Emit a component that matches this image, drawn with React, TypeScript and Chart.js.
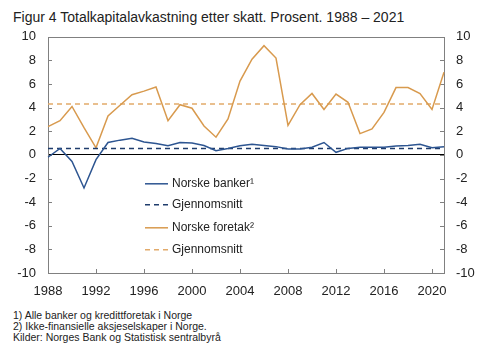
import React, { useEffect, useRef } from 'react';
import { Chart, registerables } from 'chart.js';
Chart.register(...registerables);

const years = ['1988','1989','1990','1991','1992','1993','1994','1995','1996','1997','1998','1999','2000','2001','2002','2003','2004','2005','2006','2007','2008','2009','2010','2011','2012','2013','2014','2015','2016','2017','2018','2019','2020','2021'];
const banks = [-0.2,0.55,-0.55,-2.8,-0.4,1.05,1.25,1.4,1.1,0.97,0.78,1.05,1.0,0.8,0.36,0.55,0.78,0.9,0.8,0.7,0.5,0.5,0.65,1.05,0.22,0.55,0.65,0.65,0.65,0.75,0.8,0.9,0.6,0.7];
const foretak = [2.4,2.9,4.1,2.3,0.6,3.3,4.2,5.1,5.4,5.75,2.9,4.25,3.95,2.45,1.5,3.05,6.25,8.1,9.25,8.2,2.5,4.25,5.2,3.85,5.15,4.45,1.8,2.2,3.6,5.7,5.7,5.2,3.85,7.0];
const banksAvg = 0.55;
const foretakAvg = 4.3;
const yTicks = [-10,-8,-6,-4,-2,0,2,4,6,8,10];
const xTickYears = ['1988','1992','1996','2000','2004','2008','2012','2016','2020'];
const legendLabels = ['Norske banker\u00b9','Gjennomsnitt','Norske foretak\u00b2','Gjennomsnitt'];

const BLUE = '#2d5591';
const BLUE_D = '#1f3c6c';
const ORANGE = '#d89a4e';
const ORANGE_D = '#e2aa6a';
const FONT = 'Arial, "Liberation Sans", sans-serif';

const decor = {
  id: 'decor',
  beforeDatasetsDraw(chart: any) {
    const { ctx, chartArea: a, scales } = chart;
    ctx.save();
    ctx.strokeStyle = '#808080';
    ctx.lineWidth = 1;
    ctx.strokeRect(Math.round(a.left) + 0.5, Math.round(a.top) + 0.5, Math.round(a.right - a.left), Math.round(a.bottom - a.top));
    ctx.beginPath();
    years.forEach((y, i) => {
      if (i > 0 && xTickYears.includes(y)) {
        const x = Math.round(scales.x.getPixelForValue(i)) + 0.5;
        ctx.moveTo(x, a.bottom);
        ctx.lineTo(x, a.bottom - 4);
      }
    });
    yTicks.forEach((v) => {
      const y = Math.round(scales.y.getPixelForValue(v)) + 0.5;
      ctx.moveTo(a.left, y);
      ctx.lineTo(a.left + 4, y);
      ctx.moveTo(a.right, y);
      ctx.lineTo(a.right - 4, y);
    });
    ctx.stroke();
    ctx.restore();
  },
  afterDraw(chart: any) {
    const { ctx, chartArea: a } = chart;
    const styles = [
      { c: BLUE, d: [] as number[] },
      { c: BLUE_D, d: [5, 4] },
      { c: ORANGE, d: [] as number[] },
      { c: ORANGE_D, d: [5, 4] },
    ];
    const offs = [147, 168, 191, 213];
    ctx.save();
    ctx.font = '12px ' + FONT;
    ctx.textBaseline = 'middle';
    ctx.fillStyle = '#222';
    legendLabels.forEach((lab, i) => {
      const y = a.top + offs[i];
      const x0 = a.left + 97;
      ctx.strokeStyle = styles[i].c;
      ctx.lineWidth = 1.5;
      ctx.setLineDash(styles[i].d);
      ctx.beginPath();
      ctx.moveTo(x0, y);
      ctx.lineTo(x0 + 23, y);
      ctx.stroke();
      ctx.setLineDash([]);
      ctx.fillText(lab, x0 + 27, y);
    });
    ctx.restore();
  },
};

export default function App() {
  const ref = useRef<HTMLCanvasElement>(null);
  useEffect(() => {
    const chart = new Chart(ref.current as HTMLCanvasElement, {
      type: 'line',
      data: {
        labels: years,
        datasets: [
          { data: banks, borderColor: BLUE, borderWidth: 1.5, pointRadius: 0, tension: 0 },
          { data: years.map(() => banksAvg), borderColor: BLUE_D, borderWidth: 1.5, borderDash: [5, 4], pointRadius: 0 },
          { data: foretak, borderColor: ORANGE, borderWidth: 1.5, pointRadius: 0, tension: 0 },
          { data: years.map(() => foretakAvg), borderColor: ORANGE_D, borderWidth: 1.5, borderDash: [5, 4], pointRadius: 0 },
        ],
      },
      options: {
        animation: false,
        responsive: false,
        maintainAspectRatio: false,
        layout: { padding: { top: 0, left: 0, right: 0, bottom: 0 } },
        plugins: { legend: { display: false }, tooltip: { enabled: false } },
        scales: {
          x: {
            type: 'category',
            offset: false,
            grid: { display: false, drawTicks: false },
            border: { display: false },
            ticks: {
              autoSkip: false,
              maxRotation: 0,
              padding: 11,
              color: '#222',
              font: { family: FONT, size: 13 },
              callback: (v: any, i: number) => (xTickYears.includes(years[i]) ? years[i] : ''),
            },
            afterFit: (s: any) => { s.height = 35; },
          },
          y: {
            position: 'left',
            min: -10, max: 10,
            grid: { drawTicks: false, color: (c: any) => (c.tick && c.tick.value === 0 ? '#000' : 'rgba(0,0,0,0)'), lineWidth: 1 },
            border: { display: false },
            ticks: { stepSize: 2, padding: 12, color: '#222', font: { family: FONT, size: 13 } },
            afterFit: (s: any) => { s.width = 40; },
          },
          y2: {
            position: 'right',
            min: -10, max: 10,
            grid: { display: false, drawTicks: false },
            border: { display: false },
            ticks: { stepSize: 2, padding: 12, color: '#222', font: { family: FONT, size: 13 } },
            afterFit: (s: any) => { s.width = 31; },
          },
        },
      },
      plugins: [decor],
    });
    return () => chart.destroy();
  }, []);
  return (
    <div style={{ position: 'relative', width: 467, height: 337, fontFamily: FONT, color: '#222' }}>
      <div style={{ position: 'absolute', left: 5, top: 2, fontSize: 14, lineHeight: '14px', whiteSpace: 'nowrap' }}>
        Figur 4 Totalkapitalavkastning etter skatt. Prosent. 1988 – 2021
      </div>
      <canvas ref={ref} width={467} height={291} style={{ position: 'absolute', left: 0, top: 9, width: 467, height: 291 }} />
      <div style={{ position: 'absolute', left: 5, top: 302, fontSize: 10.5, lineHeight: '11px', whiteSpace: 'nowrap' }}>
        <div>1) Alle banker og kredittforetak i Norge</div>
        <div>2) Ikke-finansielle aksjeselskaper i Norge.</div>
        <div>Kilder: Norges Bank og Statistisk sentralbyrå</div>
      </div>
    </div>
  );
}
